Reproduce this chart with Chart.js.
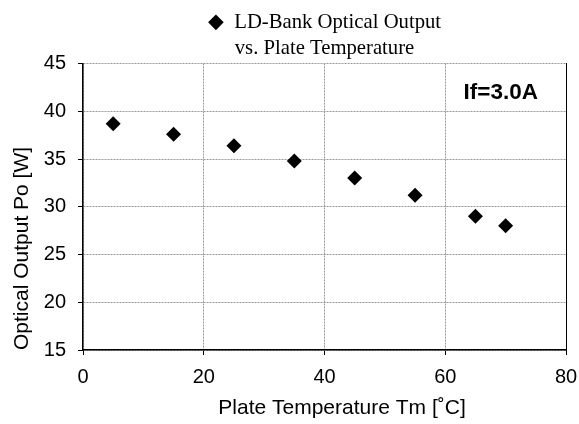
<!DOCTYPE html>
<html>
<head>
<meta charset="utf-8">
<script src="https://cdn.jsdelivr.net/npm/chart.js@4"></script>
<style>
  html, body { margin: 0; padding: 0; background: #fff; }
  #wrap { width: 579px; height: 424px; position: relative; }
</style>
</head>
<body>
<div id="wrap"><canvas id="chart"></canvas></div>
<script>
// ── Data ──────────────────────────────────────────────────────────────────
const plateTemp     = [5, 15, 25, 35, 45, 55, 65, 70];                  // Tm [°C]
const opticalOutput = [38.7, 37.6, 36.4, 34.8, 33.0, 31.2, 29.0, 28.0]; // Po [W]
const seriesLabel   = 'LD-Bank Optical Output';
const titleLine2    = 'vs. Plate Temperature';
const xTitle        = '\u2007\u2007\u2007Plate Temperature Tm [˚C]';  // sits a bit right of centre
const yTitle        = 'Optical Output Po [W]';
const noteText      = 'If=3.0A';

const SANS  = "'Liberation Sans', Arial, sans-serif";
const SERIF = "'Liberation Serif', 'Times New Roman', serif";

// ── "If=3.0A" note in the top-right of the plot ───────────────────────────
const notePlugin = {
  id: 'note',
  afterDraw(chart) {
    const { ctx, chartArea } = chart;
    ctx.save();
    ctx.font = `bold 22.5px ${SANS}`;
    ctx.fillStyle = '#000';
    ctx.textAlign = 'right';
    ctx.textBaseline = 'alphabetic';
    ctx.fillText(noteText, chartArea.right - 28, chartArea.top + 35);
    ctx.restore();
  }
};

new Chart(document.getElementById('chart'), {
  type: 'scatter',
  plugins: [notePlugin],
  data: {
    datasets: [{
      label: seriesLabel,
      data: plateTemp.map((x, i) => ({ x, y: opticalOutput[i] })),
      pointStyle: 'rectRot', pointRadius: 7.5, pointHoverRadius: 7.5,
      backgroundColor: '#000', borderColor: '#000', borderWidth: 0
    }]
  },
  options: {
    responsive: true, maintainAspectRatio: false, animation: false,
    layout: { padding: { left: 0, right: 0, top: 10, bottom: 0 } },
    plugins: {
      legend: {
        display: true, position: 'top', fullSize: false, weight: 3000,
        labels: { color: '#000', font: { family: SERIF, size: 20.7 },
                  usePointStyle: true, boxWidth: 16, boxHeight: 11, padding: 2 }
      },
      title: {
        display: true, text: titleLine2, position: 'top', fullSize: false,
        color: '#000', font: { family: SERIF, size: 20.7, weight: 'normal' },
        padding: { top: -7, bottom: 3 }
      },
      tooltip: { enabled: false }
    },
    scales: {
      x: {
        type: 'linear', min: 0, max: 80,
        // fixed height; the side axes already leave room for the end labels
        afterFit: s => { s.height = 74; s.paddingLeft = 0; s.paddingRight = 0; },
        ticks: { stepSize: 20, color: '#000', font: { family: SANS, size: 20 }, padding: 10 },
        grid: { color: '#999', tickColor: '#000', tickLength: 5, lineWidth: 1 },
        border: { color: '#000', width: 1.5, dash: [2, 1] },
        title: { display: true, text: xTitle, color: '#000',
                 font: { family: SANS, size: 21 }, padding: { top: 0, bottom: 3 } }
      },
      y: {
        type: 'linear', min: 15, max: 45,
        afterFit: s => { s.width = 83; },
        ticks: { stepSize: 5, color: '#000', font: { family: SANS, size: 20 }, padding: 12 },
        grid: { color: '#999', tickColor: '#000', tickLength: 5, lineWidth: 1 },
        border: { color: '#000', width: 1.5, dash: [2, 1] },
        title: { display: true, text: yTitle, align: 'start', color: '#000',
                 font: { family: SANS, size: 21 }, padding: { top: 10, bottom: 0 } }
      },
      yRight: {
        type: 'linear', position: 'right', min: 15, max: 45,
        afterFit: s => { s.width = 13; },
        ticks: { display: false },
        grid: { drawOnChartArea: false, drawTicks: false },
        border: { color: '#000', width: 1 }
      }
    }
  }
});
</script>
</body>
</html>
